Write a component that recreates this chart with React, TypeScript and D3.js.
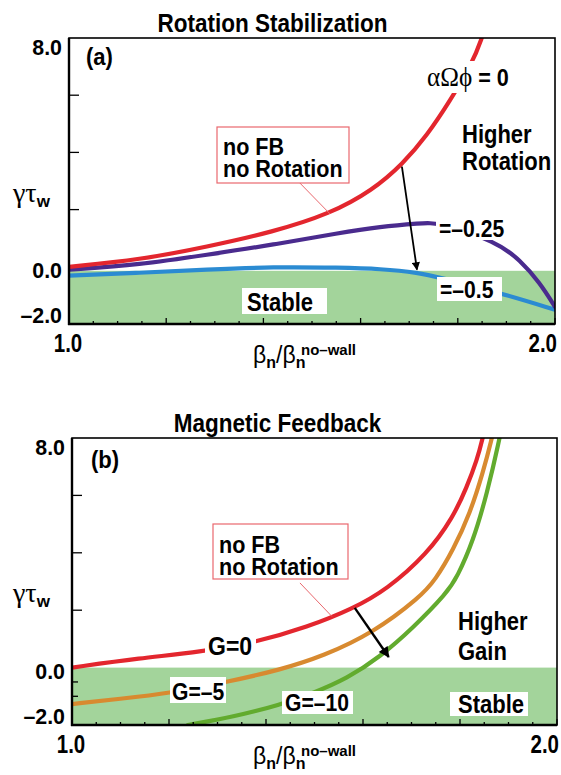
import React from 'react';
import * as d3 from 'd3';

type Pt = [number, number];

// ---------- axes ----------
const xDomain: [number, number] = [1.0, 2.0];
const yDomain: [number, number] = [-2.0, 8.0];
const xTickValues = [1.0, 2.0];
const xTickLabels = ['1.0', '2.0'];
const yTickValues = [8.0, 0.0, -2.0];
const yTickLabels = ['8.0', '0.0', '–2.0'];
const yInnerTicks = [2, 4, 6];
const yInnerNegTicksB = [-0.5, -1.0];

// ---------- panel (a) Rotation Stabilization ----------
const rotAlpha0: Pt[] = [
  [1.0, 0.0], [1.146, 0.245], [1.284, 0.7], [1.42, 1.22], [1.537, 1.85], [1.625, 2.68],
  [1.687, 3.6], [1.737, 4.6], [1.784, 5.8], [1.829, 7.1], [1.85, 8.0], [1.86, 8.6],
];
const rotAlphaM025: Pt[] = [
  [1.0, -0.1], [1.146, 0.07], [1.284, 0.42], [1.42, 0.77], [1.558, 1.19], [1.64, 1.4],
  [1.722, 1.52], [1.763, 1.56], [1.88, 0.87], [1.928, 0.24], [1.969, -0.56], [2.0, -1.4],
];
const rotAlphaM05: Pt[] = [
  [1.0, -0.31], [1.146, -0.21], [1.284, -0.1], [1.42, 0.0], [1.558, -0.03], [1.64, -0.07],
  [1.722, -0.21], [1.757, -0.35], [1.887, -0.91], [2.0, -1.5],
];
const stableTopA = -0.14;
const arrowA: [Pt, Pt] = [[1.685, 3.5], [1.716, -0.1]];
const leaderA: [Pt, Pt] = [[1.475, 2.93], [1.537, 1.85]];

// ---------- panel (b) Magnetic Feedback ----------
const fbG0: Pt[] = [
  [1.0, 0.0], [1.14, 0.33], [1.264, 0.54], [1.381, 0.89], [1.485, 1.41], [1.579, 2.05],
  [1.649, 2.72], [1.732, 3.95], [1.786, 5.24], [1.814, 6.29], [1.835, 7.23],
  [1.847, 8.0], [1.853, 8.5],
];
const fbGm5: Pt[] = [
  [1.0, -1.27], [1.099, -1.09], [1.202, -0.89], [1.32, -0.5], [1.429, -0.08], [1.518, 0.4],
  [1.621, 1.21], [1.718, 2.46], [1.749, 3.05], [1.786, 4.1], [1.821, 5.39], [1.847, 6.78],
  [1.866, 8.0], [1.872, 8.5],
];
const fbGm10: Pt[] = [
  [1.239, -2.0], [1.332, -1.72], [1.429, -1.3], [1.497, -0.89], [1.567, -0.38], [1.635, 0.37],
  [1.703, 1.38], [1.773, 2.6], [1.794, 3.15], [1.827, 4.4], [1.856, 6.08], [1.882, 8.0],
  [1.887, 8.5],
];
const stableTopB = 0.0;
const arrowB: [Pt, Pt] = [[1.583, 2.08], [1.653, 0.37]];
const leaderB: [Pt, Pt] = [[1.47, 2.95], [1.536, 1.78]];

// ---------- styles ----------
const SANS = '"Liberation Sans", Arial, Helvetica, sans-serif';
const SERIF = '"Liberation Serif", "Times New Roman", serif';
const RED = '#e3262e';
const PURPLE = '#4a2b8e';
const BLUE = '#2b8bd2';
const ORANGE = '#d88a30';
const GREEN = '#62ab2e';
const STABLE = '#a3d49b';
const BOXRED = '#e9686e';

interface TProps {
  x: number; y: number; size?: number; sx?: number; anchor?: string;
  weight?: string; family?: string; children: React.ReactNode;
}
function T({ x, y, size = 25, sx = 0.88, anchor = 'start', weight = 'bold', family = SANS, children }: TProps) {
  return (
    <text transform={`translate(${x},${y}) scale(${sx},1)`} fontSize={size} fontWeight={weight}
      fontFamily={family} textAnchor={anchor as any} fill="#000">{children}</text>
  );
}

interface Frame { left: number; right: number; top: number; bottom: number; }

function Axes({ f, innerNeg }: { f: Frame; innerNeg?: number[] }) {
  const x = d3.scaleLinear().domain(xDomain).range([f.left, f.right]);
  const y = d3.scaleLinear().domain(yDomain).range([f.bottom, f.top]);
  const minor = d3.range(0, 21).map((i) => 1 + i * 0.05);
  return (
    <g>
      {minor.map((v, i) => (
        <line key={'xm' + i} x1={x(v)} x2={x(v)} y1={f.bottom} y2={f.bottom - (i % 4 === 0 ? 6 : 3)}
          stroke="#000" strokeWidth={1.3} />
      ))}
      {yInnerTicks.map((v) => (
        <line key={'yt' + v} x1={f.left} x2={f.left + 10} y1={y(v)} y2={y(v)} stroke="#000" strokeWidth={1.3} />
      ))}
      {(innerNeg || []).map((v) => (
        <line key={'yn' + v} x1={f.left} x2={f.left + 6} y1={y(v)} y2={y(v)} stroke="#000" strokeWidth={1.3} />
      ))}
      <rect x={f.left} y={f.top} width={f.right - f.left} height={f.bottom - f.top} fill="none"
        stroke="#000" strokeWidth={1.6} />
      <line x1={f.left} x2={f.left} y1={f.top} y2={f.bottom + 1} stroke="#000" strokeWidth={2.4} />
      <line x1={f.left - 1} x2={f.right} y1={f.bottom} y2={f.bottom} stroke="#000" strokeWidth={2.6} />
      {yTickValues.map((v, i) => {
        const yy = Math.max(f.top + 17, Math.min(f.bottom - 1, y(v) + 11));
        return <T key={'yl' + i} x={f.left - 7} y={yy} size={23} sx={0.93} anchor="end">{yTickLabels[i]}</T>;
      })}
      {xTickValues.map((v, i) => (
        <T key={'xl' + i} x={i === 0 ? x(v) - 1 : x(v) + 2} y={f.bottom + 28} size={25} sx={0.82}
          anchor={i === 0 ? 'middle' : 'end'}>{xTickLabels[i]}</T>
      ))}
      {/* y axis title */}
      <text x={13} y={f.top + 164} fill="#000">
        <tspan fontFamily={SERIF} fontSize={28}>γτ</tspan>
        <tspan fontFamily={SANS} fontWeight="bold" fontSize={17} dy={5}>w</tspan>
      </text>
      {/* x axis title */}
      <text x={253} y={f.bottom + 39} fill="#000" fontFamily={SANS}>
        <tspan fontSize={23}>β</tspan>
        <tspan fontSize={16} fontWeight="bold" dy={5}>n</tspan>
        <tspan fontSize={23} dy={-5}>/β</tspan>
        <tspan fontSize={16} fontWeight="bold" dy={5}>n</tspan>
        <tspan fontSize={15} fontWeight="bold" x={301} y={f.bottom + 31}>no–wall</tspan>
      </text>
    </g>
  );
}

function Arrow({ p, x, y, w }: { p: [Pt, Pt]; x: any; y: any; w: number }) {
  return (
    <line x1={x(p[0][0])} y1={y(p[0][1])} x2={x(p[1][0])} y2={y(p[1][1])} stroke="#000" strokeWidth={w}
      markerEnd="url(#ah)" />
  );
}

function Lines2({ x, y, lines, gap, size = 25 }: { x: number; y: number; lines: string[]; gap: number; size?: number }) {
  return (
    <text transform={`translate(${x},${y}) scale(0.88,1)`} fontSize={size} fontWeight="bold" fontFamily={SANS} fill="#000">
      {lines.map((s, i) => (
        <tspan key={i} x={0} dy={i === 0 ? 0 : gap}>{s}</tspan>
      ))}
    </text>
  );
}

function Box2({ x, y, w, h, tx, ty, lines }: { x: number; y: number; w: number; h: number; tx: number; ty: number; lines: string[] }) {
  return (
    <g>
      <rect x={x} y={y} width={w} height={h} fill="#fff" stroke={BOXRED} strokeWidth={1.2} />
      <Lines2 x={tx} y={ty} lines={lines} gap={22.5} size={24.5} />
    </g>
  );
}

export default function App() {
  const fa: Frame = { left: 69, right: 555, top: 38, bottom: 324 };
  const fb: Frame = { left: 72, right: 557, top: 438, bottom: 725 };
  const xa = d3.scaleLinear().domain(xDomain).range([fa.left, fa.right]);
  const ya = d3.scaleLinear().domain(yDomain).range([fa.bottom, fa.top]);
  const xb = d3.scaleLinear().domain(xDomain).range([fb.left, fb.right]);
  const yb = d3.scaleLinear().domain(yDomain).range([fb.bottom, fb.top]);
  const curve = d3.curveBasis;
  const la = d3.line<Pt>().x((d) => xa(d[0])).y((d) => ya(d[1])).curve(curve);
  const lb = d3.line<Pt>().x((d) => xb(d[0])).y((d) => yb(d[1])).curve(curve);

  return (
    <svg width={561} height={775} style={{ position: 'absolute', left: 0, top: 0, background: '#fff' }}>
      <defs>
        <marker id="ah" viewBox="0 0 10 10" refX="9" refY="5" markerWidth="5" markerHeight="4.5"
          orient="auto" markerUnits="strokeWidth">
          <path d="M0,0L10,5L0,10z" fill="#000" />
        </marker>
        <clipPath id="ca"><rect x={fa.left} y={fa.top} width={fa.right - fa.left} height={fa.bottom - fa.top} /></clipPath>
        <clipPath id="cb"><rect x={fb.left} y={fb.top} width={fb.right - fb.left} height={fb.bottom - fb.top} /></clipPath>
      </defs>
      <rect x={0} y={0} width={561} height={775} fill="#fff" />

      {/* ===== Panel (a) ===== */}
      <T x={272.5} y={32} size={25} sx={0.9} anchor="middle">Rotation Stabilization</T>
      <rect x={xa(1)} y={ya(stableTopA)} width={xa(2) - xa(1)} height={ya(-2) - ya(stableTopA)} fill={STABLE} />
      <g clipPath="url(#ca)" fill="none" strokeLinecap="round">
        <path d={la(rotAlphaM05) || ''} stroke={BLUE} strokeWidth={4.2} />
        <path d={la(rotAlphaM025) || ''} stroke={PURPLE} strokeWidth={4.2} />
        <path d={la(rotAlpha0) || ''} stroke={RED} strokeWidth={4.2} />
      </g>
      <line x1={xa(leaderA[0][0])} y1={ya(leaderA[0][1])} x2={xa(leaderA[1][0])} y2={ya(leaderA[1][1])}
        stroke={BOXRED} strokeWidth={1} />
      <Arrow p={arrowA} x={xa} y={ya} w={1.8} />
      <Box2 x={217} y={127} w={132} h={56} tx={223} ty={155} lines={['no FB', 'no Rotation']} />
      <rect x={423} y={61} width={98} height={32} fill="#fff" />
      <text transform="translate(427,86) scale(0.9,1)" fill="#000">
        <tspan fontFamily={SERIF} fontSize={28}>αΩϕ</tspan>
        <tspan fontFamily={SANS} fontWeight="bold" fontSize={24}> = 0</tspan>
      </text>
      <Lines2 x={462} y={143} lines={['Higher', 'Rotation']} gap={27} />
      <rect x={436} y={217} width={74} height={23} fill="#fff" />
      <T x={439} y={237} size={24}>=–0.25</T>
      <rect x={437} y={277} width={65} height={24} fill="#fff" />
      <T x={440} y={298} size={24}>=–0.5</T>
      <rect x={242} y={288} width={85} height={26} fill="#fff" />
      <T x={247} y={311}>Stable</T>
      <T x={86} y={65} size={24} sx={0.92}>(a)</T>
      <Axes f={fa} />

      {/* ===== Panel (b) ===== */}
      <T x={277.5} y={432} size={25} sx={0.9} anchor="middle">Magnetic Feedback</T>
      <rect x={xb(1)} y={yb(stableTopB)} width={xb(2) - xb(1)} height={yb(-2) - yb(stableTopB)} fill={STABLE} />
      <g clipPath="url(#cb)" fill="none" strokeLinecap="round">
        <path d={lb(fbGm10) || ''} stroke={GREEN} strokeWidth={4.2} />
        <path d={lb(fbGm5) || ''} stroke={ORANGE} strokeWidth={4.2} />
        <path d={lb(fbG0) || ''} stroke={RED} strokeWidth={4.2} />
      </g>
      <line x1={xb(leaderB[0][0])} y1={yb(leaderB[0][1])} x2={xb(leaderB[1][0])} y2={yb(leaderB[1][1])}
        stroke={BOXRED} strokeWidth={1} />
      <Arrow p={arrowB} x={xb} y={yb} w={2.4} />
      <Box2 x={213} y={524} w={135} h={55} tx={219} ty={553} lines={['no FB', 'no Rotation']} />
      <rect x={205} y={633} width={51} height={25} fill="#fff" />
      <T x={208} y={655} sx={0.92}>G=0</T>
      <rect x={170} y={677} width={56} height={26} fill="#fff" />
      <T x={172} y={700} size={24}>G=–5</T>
      <rect x={282} y={691} width={71} height={23} fill="#fff" />
      <T x={285} y={711} size={24}>G=–10</T>
      <rect x={450} y={692} width={78} height={24} fill="#fff" />
      <T x={458} y={713}>Stable</T>
      <Lines2 x={458} y={630} lines={['Higher', 'Gain']} gap={30} />
      <T x={91} y={468} size={24} sx={0.92}>(b)</T>
      <Axes f={fb} innerNeg={yInnerNegTicksB} />
    </svg>
  );
}
